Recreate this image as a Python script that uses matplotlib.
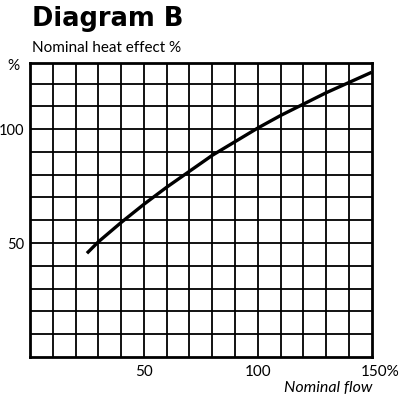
import matplotlib
matplotlib.use("Agg")
import matplotlib.pyplot as plt
import matplotlib.transforms as mtransforms
import numpy as np

# Curve (nominal flow % -> nominal heat effect %)
flow = [25, 30, 40, 50, 60, 70, 80, 90, 100, 110, 120, 130, 140, 150]
heat = [45.5, 50.5, 59, 67, 74.5, 81.5, 88.5, 94.5, 100.5, 106, 111, 116, 120.5, 125]

x_ticks = [50, 100, 150]
x_labels = ["50", "100", "150%"]
y_ticks = [50, 100]
y_labels = ["50", "100"]

plt.rcParams['font.family'] = ['Lato', 'DejaVu Sans']

fig = plt.figure(figsize=(4, 4), dpi=100)
ax = fig.add_axes([0.075, 0.108, 0.854, 0.734])

ax.set_xlim(0, 150)
ax.set_ylim(0, 129)

# grid every 10 %
for gx in np.arange(10, 150, 10):
    ax.axvline(gx, color='black', linewidth=1.3, zorder=1)
for gy in np.arange(10, 130, 10):
    ax.axhline(gy, color='black', linewidth=1.3, zorder=1)

ax.plot(flow, heat, color='black', linewidth=2.4, solid_capstyle='butt', zorder=3)

for s in ax.spines.values():
    s.set_linewidth(2)

ax.set_xticks(x_ticks)
ax.set_xticklabels(x_labels, fontsize=11)
ax.set_yticks(y_ticks)
ax.set_yticklabels(y_labels, fontsize=10.5)
ax.tick_params(axis='x', length=0, pad=6)
ax.tick_params(axis='y', length=0, pad=4)

# the "150" sits on its grid line, the % sign hangs past it
last = ax.get_xticklabels()[-1]
last.set_horizontalalignment('left')
last.set_transform(last.get_transform() +
                   mtransforms.ScaledTranslation(-11 / 100, 0, fig.dpi_scale_trans))

fig.text(0.08, 0.935, "Diagram B", fontsize=18.5, fontweight='bold',
         family=['DejaVu Sans'])
fig.text(0.08, 0.87, "Nominal heat effect %", fontsize=11)
fig.text(0.018, 0.825, "%", fontsize=11)
fig.text(0.93, 0.02, "Nominal flow", fontsize=11.5, style='italic', ha='right')

plt.savefig("out.png", dpi=100)
